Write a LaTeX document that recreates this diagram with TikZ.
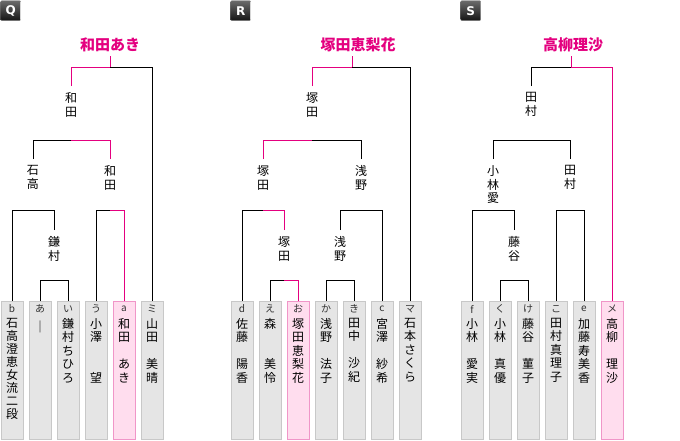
\documentclass[tikz,border=0pt]{standalone}
\usepackage{fontspec}
\setmainfont{Noto Sans CJK JP}
\newfontfamily\badgefont{DejaVu Sans}
\definecolor{pk}{RGB}{228,0,127}
\definecolor{gfill}{RGB}{229,229,229}
\definecolor{gdraw}{RGB}{200,200,200}
\definecolor{pfill}{RGB}{255,221,238}
\definecolor{pdraw}{RGB}{240,150,200}
\tikzset{
 bl/.style={draw=black, line width=1pt},
 pl/.style={draw=pk, line width=1pt},
 gbox/.style={rectangle, draw=gdraw, fill=gfill, line width=1pt, minimum width=22pt, minimum height=138.5pt, anchor=north, inner sep=0pt},
 pbox/.style={gbox, draw=pdraw, fill=pfill},
 tag/.style={font=\fontsize{10}{10}\selectfont, text=black!80, inner sep=0pt},
 vname/.style={align=center, font=\fontsize{12}{13.5}\selectfont, anchor=north, inner sep=0pt},
 ttl/.style={font=\fontsize{15}{15}\selectfont\bfseries, text=pk, inner sep=0pt},
 badge/.style={rectangle, minimum size=20pt, inner sep=0pt, anchor=north west, top color=black!58, bottom color=black!92, draw=black!45, rounded corners=1pt, text=white, font=\badgefont\bfseries\fontsize{12}{12}\selectfont},
}
\begin{document}
\begin{tikzpicture}[x=1pt,y=-1pt]
\fill[white] (0,0) rectangle (680,440);
\useasboundingbox (0,0) rectangle (680,440);

% ================= Q =================
\node[badge] (qb) at (0.5,0.5) {Q};
\node[ttl] (qt) at (110,45) {和田あき};
\node[gbox] (q1) at (12,300.5) {};
\node[gbox] (q2) at (40,300.5) {};
\node[gbox] (q3) at (68,300.5) {};
\node[gbox] (q4) at (96,300.5) {};
\node[pbox] (q5) at (124,300.5) {};
\node[gbox] (q6) at (152,300.5) {};
\node[tag] (q1t) at (12,309) {b};
\node[tag] (q2t) at (40,309) {あ};
\node[tag] (q3t) at (68,309) {い};
\node[tag] (q4t) at (96,309) {う};
\node[tag] (q5t) at (124,309) {a};
\node[tag] (q6t) at (152,309) {ミ};
\node[vname, font=\fontsize{12}{13}\selectfont] (q1n) at (12,318) {石\\高\\澄\\恵\\女\\流\\二\\段};
\node[vname] (q2n) at (40,321) {｜};
\node[vname] (q3n) at (68,318) {鎌\\村\\ち\\ひ\\ろ};
\node[vname] (q4n) at (96,318) {小\\澤\\　\\　\\望};
\node[vname] (q5n) at (124,318) {和\\田\\　\\あ\\き};
\node[vname] (q6n) at (152,318) {山\\田\\　\\美\\晴};
\node[vname] (qLA) at (54,236.5) {鎌\\村};
\node[vname] (qLB) at (33,165.5) {石\\高};
\node[vname] (qLC) at (110,165.5) {和\\田};
\node[vname] (qLD) at (71,92.5) {和\\田};
\coordinate (qA) at (54,280);
\coordinate (qB) at (33,210);
\coordinate (qC) at (110,210);
\coordinate (qD) at (71,140);
\coordinate (qE) at (110,67);
\coordinate (qT) at (110,56);
\draw[bl] (q2.north) |- (qA);
\draw[bl] (q3.north) |- (qA);
\draw[bl] (q1.north) |- (qB);
\draw[bl] ([yshift=6.5pt]qLA.north) |- (qB);
\draw[bl] (q4.north) |- (qC);
\draw[bl] ([yshift=6.5pt]qLB.north) |- (qD);
\draw[bl] (q6.north) |- (qE);
\draw[pl] (q5.north) |- (qC);
\draw[pl] ([yshift=6.5pt]qLC.north) |- (qD);
\draw[pl] ([yshift=6.5pt]qLD.north) |- (qE);
\draw[pl] (qT) -- (qE);

% ================= R =================
\node[badge] (rb) at (230.5,0.5) {R};
\node[ttl] (rt) at (358,45) {塚田恵梨花};
\node[gbox] (r1) at (242,300.5) {};
\node[gbox] (r2) at (270,300.5) {};
\node[pbox] (r3) at (298,300.5) {};
\node[gbox] (r4) at (326,300.5) {};
\node[gbox] (r5) at (354,300.5) {};
\node[gbox] (r6) at (382,300.5) {};
\node[gbox] (r7) at (410,300.5) {};
\node[tag] (r1t) at (242,309) {d};
\node[tag] (r2t) at (270,309) {え};
\node[tag] (r3t) at (298,309) {お};
\node[tag] (r4t) at (326,309) {か};
\node[tag] (r5t) at (354,309) {き};
\node[tag] (r6t) at (382,309) {c};
\node[tag] (r7t) at (410,309) {マ};
\node[vname] (r1n) at (242,318) {佐\\藤\\　\\陽\\香};
\node[vname] (r2n) at (270,318) {森\\　\\　\\美\\怜};
\node[vname] (r3n) at (298,318) {塚\\田\\恵\\梨\\花};
\node[vname] (r4n) at (326,318) {浅\\野\\　\\法\\子};
\node[vname] (r5n) at (354,318) {田\\中\\　\\沙\\紀};
\node[vname] (r6n) at (382,318) {宮\\澤\\　\\紗\\希};
\node[vname] (r7n) at (410,318) {石\\本\\さ\\く\\ら};
\node[vname] (rLA) at (284,236.5) {塚\\田};
\node[vname] (rLB) at (340,236.5) {浅\\野};
\node[vname] (rLC) at (263,165.5) {塚\\田};
\node[vname] (rLD) at (361,165.5) {浅\\野};
\node[vname] (rLE) at (312,92.5) {塚\\田};
\coordinate (rA) at (284,280);
\coordinate (rB) at (340,280);
\coordinate (rC) at (263,210);
\coordinate (rD) at (361,210);
\coordinate (rE) at (312,140);
\coordinate (rF) at (352,67);
\coordinate (rT) at (352,56);
\draw[bl] (r2.north) |- (rA);
\draw[bl] (r4.north) |- (rB);
\draw[bl] (r5.north) |- (rB);
\draw[bl] (r1.north) |- (rC);
\draw[bl] ([yshift=6.5pt]rLB.north) |- (rD);
\draw[bl] (r6.north) |- (rD);
\draw[bl] ([yshift=6.5pt]rLD.north) |- (rE);
\draw[bl] (r7.north) |- (rF);
\draw[pl] (r3.north) |- (rA);
\draw[pl] ([yshift=6.5pt]rLA.north) |- (rC);
\draw[pl] ([yshift=6.5pt]rLC.north) |- (rE);
\draw[pl] ([yshift=6.5pt]rLE.north) |- (rF);
\draw[pl] (rT) -- (rF);

% ================= S =================
\node[badge] (sb) at (460.5,0.5) {S};
\node[ttl] (st) at (573,45) {高柳理沙};
\node[gbox] (s1) at (472,300.5) {};
\node[gbox] (s2) at (500,300.5) {};
\node[gbox] (s3) at (528,300.5) {};
\node[gbox] (s4) at (556,300.5) {};
\node[gbox] (s5) at (584,300.5) {};
\node[pbox] (s6) at (612,300.5) {};
\node[tag] (s1t) at (472,309) {f};
\node[tag] (s2t) at (500,309) {く};
\node[tag] (s3t) at (528,309) {け};
\node[tag] (s4t) at (556,309) {こ};
\node[tag] (s5t) at (584,309) {e};
\node[tag] (s6t) at (612,309) {メ};
\node[vname] (s1n) at (472,318) {小\\林\\　\\愛\\実};
\node[vname] (s2n) at (500,318) {小\\林\\　\\真\\優};
\node[vname] (s3n) at (528,318) {藤\\谷\\　\\菫\\子};
\node[vname] (s4n) at (556,318) {田\\村\\真\\理\\子};
\node[vname] (s5n) at (584,318) {加\\藤\\寿\\美\\香};
\node[vname] (s6n) at (612,318) {高\\柳\\　\\理\\沙};
\node[vname] (sLA) at (514,236.5) {藤\\谷};
\node[vname] (sLB) at (493,165.5) {小\\林\\愛};
\node[vname] (sLC) at (570,165.5) {田\\村};
\node[vname] (sLD) at (531,92.5) {田\\村};
\coordinate (sA) at (514,280);
\coordinate (sB) at (493,210);
\coordinate (sC) at (570,210);
\coordinate (sD) at (531,140);
\coordinate (sE) at (571,67);
\coordinate (sT) at (571,56);
\draw[bl] (s2.north) |- (sA);
\draw[bl] (s3.north) |- (sA);
\draw[bl] (s1.north) |- (sB);
\draw[bl] ([yshift=6.5pt]sLA.north) |- (sB);
\draw[bl] (s4.north) |- (sC);
\draw[bl] (s5.north) |- (sC);
\draw[bl] ([yshift=6.5pt]sLB.north) |- (sD);
\draw[bl] ([yshift=6.5pt]sLC.north) |- (sD);
\draw[bl] ([yshift=6.5pt]sLD.north) |- (sE);
\draw[pl] (s6.north) |- (sE);
\draw[pl] (sT) -- (sE);
\end{tikzpicture}
\end{document}
